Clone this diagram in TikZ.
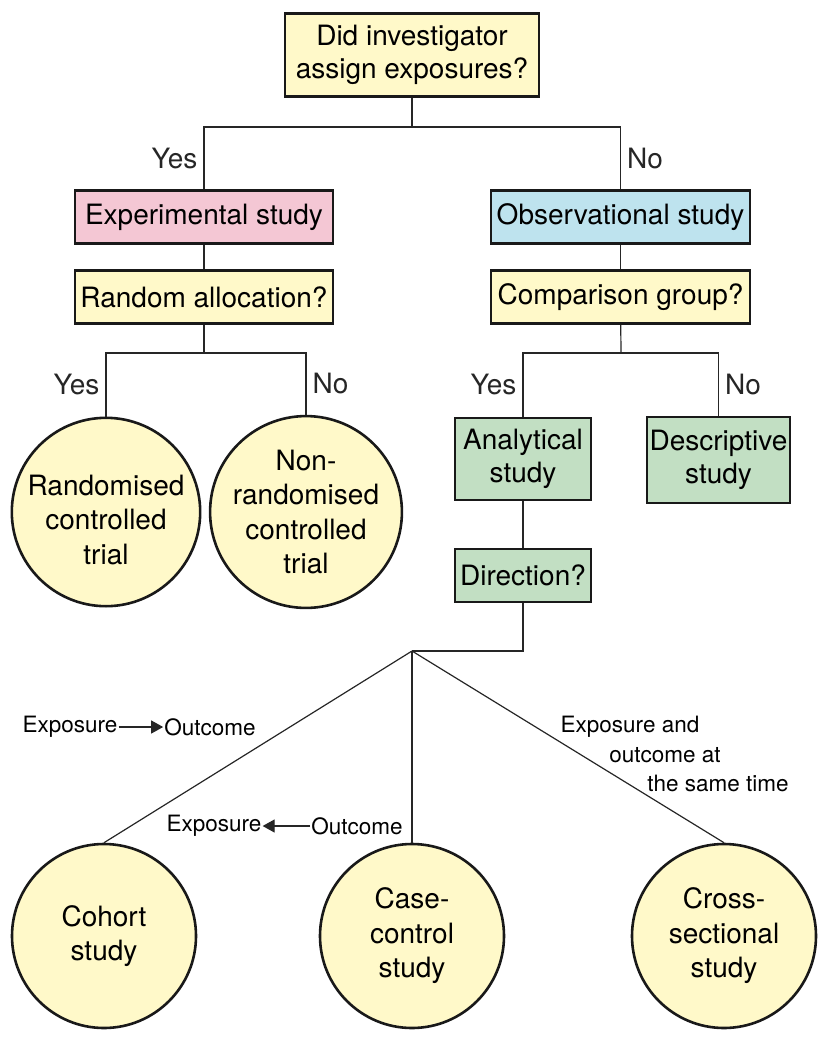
\documentclass[tikz,border=0pt]{standalone}
\usepackage{fontspec}
\setmainfont{TeX Gyre Heros}
\usetikzlibrary{arrows.meta}

\definecolor{giallo}{HTML}{FFF9C9}
\definecolor{rosa}{HTML}{F4C7D4}
\definecolor{azzurro}{HTML}{BEE3EE}
\definecolor{verde}{HTML}{C2DFC3}

\begin{document}
\begin{tikzpicture}[x=1pt, y=-1pt,
		box/.style={draw=black!90, line width=2.6pt, align=center, inner sep=2pt,
			font=\fontsize{28}{33}\selectfont},
		studio/.style={circle, draw=black!90, line width=2.6pt, fill=giallo, align=center,
			minimum size=184pt, inner sep=0pt, font=\fontsize{28}{34.5}\selectfont},
		linea/.style={line width=1.2pt, black!85},
		risposta/.style={font=\fontsize{28}{33}\selectfont, inner sep=6pt},
		nota/.style={font=\fontsize{22.5}{28}\selectfont, inner sep=1pt}]
	\useasboundingbox (0,0) rectangle (824,1042);

	% Domanda iniziale
	\node[box, fill=giallo, minimum width=254pt, minimum height=83pt] (assegna) at (412,55) {Did investigator\\assign exposures?};
	\coordinate (bivio1) at (412,127);

	% Ramo sperimentale
	\node[box, fill=rosa, minimum width=258pt, minimum height=53pt] (sperim) at (204,217) {Experimental study};
	\node[box, fill=giallo, minimum width=258pt, minimum height=53pt] (random) at (204,297) {Random allocation?};
	\coordinate (bivio2) at (204,353);
	\node[studio] (rct) at (106,512) {\rule{0pt}{36pt}Randomised\\controlled\\trial};
	\node[studio] (nrct) at (306,512) {Non-\\randomised\\controlled\\trial};

	% Ramo osservazionale
	\node[box, fill=azzurro, minimum width=259pt, minimum height=53pt] (osserv) at (620.5,217) {Observational study};
	\node[box, fill=giallo, minimum width=259pt, minimum height=53pt] (confronto) at (620.5,297) {Comparison group?};
	\coordinate (bivio3) at (621,353);
	\node[box, fill=verde, minimum width=136pt, minimum height=82pt] (analitico) at (523,459) {Analytical\\study};
	\node[box, fill=verde, minimum width=143pt, minimum height=86pt] (descrittivo) at (718.5,460) {Descriptive\\study};
	\node[box, fill=verde, minimum width=136pt, minimum height=53pt] (direzione) at (523,575.5) {Direction?};
	\coordinate (bivio4) at (412,651);

	% Studi finali
	\node[studio] (coorte) at (104,936) {Cohort\\study};
	\node[studio] (casocontrollo) at (412,936) {Case-\\control\\study};
	\node[studio] (trasversale) at (724,936) {Cross-\\sectional\\study};

	% Collegamenti
	\draw[linea] (assegna) -- (bivio1);
	\draw[linea] (sperim.north) |- node[risposta, pos=0.25, left] {Yes} (bivio1);
	\draw[linea] (osserv.north) |- node[risposta, pos=0.25, right] {No} (bivio1);
	\draw[linea] (sperim) -- (random);
	\draw[linea] (osserv) -- (confronto);
	\draw[linea] (random) -- (bivio2);
	\draw[linea] (rct.north) |- node[risposta, pos=0.25, left] {Yes} (bivio2);
	\draw[linea] (nrct.north) |- node[risposta, pos=0.25, right] {No} (bivio2);
	\draw[linea] (confronto) -- (bivio3);
	\draw[linea] (analitico.north) |- node[risposta, pos=0.25, left] {Yes} (bivio3);
	\draw[linea] (descrittivo.north) |- node[risposta, pos=0.25, right] {No} (bivio3);
	\draw[linea] (analitico) -- (direzione);
	\draw[linea] (direzione.south) |- (bivio4);
	\draw[linea] (bivio4) -- (coorte.north);
	\draw[linea] (bivio4) -- (casocontrollo.north);
	\draw[linea] (bivio4) -- (trasversale.north);

	% Direzioni
	\node[nota] (esp1) at (70,727) {Exposure};
	\node[nota] (esito1) at (210,727) {Outcome};
	\draw[linea, -{Triangle[length=12pt, width=13pt]}] (esp1) -- (esito1);
	\node[nota] (esp2) at (214,826) {Exposure};
	\node[nota] (esito2) at (357,826) {Outcome};
	\draw[linea, -{Triangle[length=12pt, width=13pt]}] (esito2) -- (esp2);
	\node[nota] (stesso1) at (630,727) {Exposure and};
	\node[nota] (stesso2) at (665,755) {outcome at};
	\node[nota] (stesso3) at (718,783) {the same time};
\end{tikzpicture}
\end{document}
